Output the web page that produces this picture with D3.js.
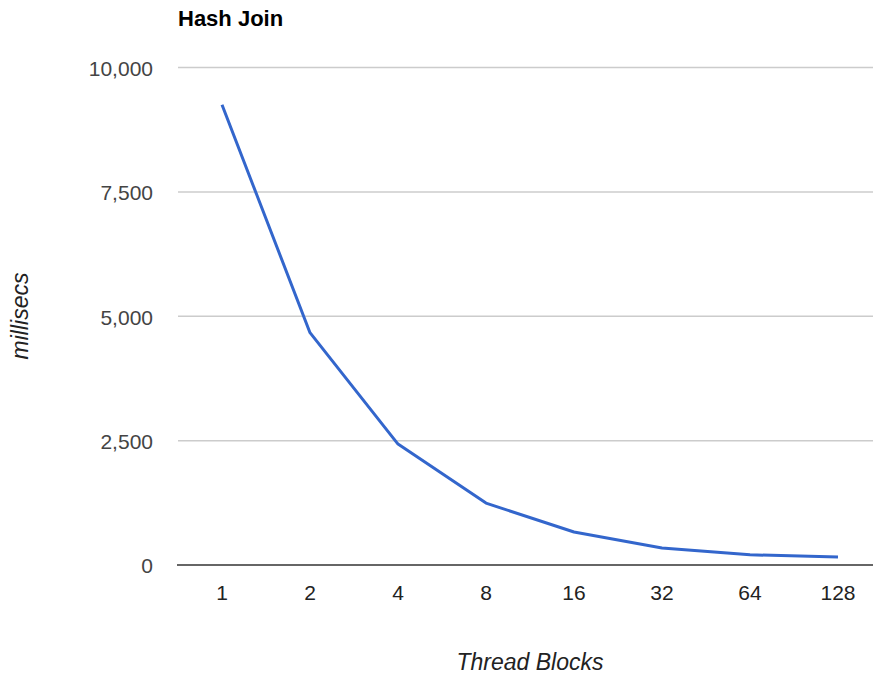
<!DOCTYPE html>
<html><head><meta charset="utf-8">
<script src="https://cdn.jsdelivr.net/npm/d3@7"></script>
<style>body{margin:0;background:#fff;} svg{display:block;}</style>
</head><body>
<svg id="c" width="873" height="674"></svg>
<script>
const categories = ["1","2","4","8","16","32","64","128"];
const values = [9250, 4670, 2430, 1245, 663, 342, 205, 162];
const yTicks = [0, 2500, 5000, 7500, 10000];

(function () {
const svg = d3.select("#c");
const font = "'Liberation Sans', Arial, sans-serif";
const mLeft = 178, mRight = 882, mTop = 67.5, mBottom = 565;

const x = d3.scalePoint().domain(categories).range([mLeft, mRight]).padding(0.5);
const y = d3.scaleLinear().domain([0, 10000]).range([mBottom, mTop]);

// gridlines
svg.append("g").selectAll("line").data(yTicks.filter(d => d !== 0)).join("line")
  .attr("x1", mLeft).attr("x2", 873)
  .attr("y1", d => y(d)).attr("y2", d => y(d))
  .attr("stroke", "#cccccc").attr("stroke-width", 1.5);

// y tick labels
svg.append("g").selectAll("text").data(yTicks).join("text")
  .attr("x", 153).attr("y", d => y(d) + 1).attr("dy", "0.35em")
  .attr("text-anchor", "end")
  .attr("font-family", font).attr("font-size", 21).attr("fill", "#444")
  .text(d => d3.format(",")(d));

// line
const line = d3.line().x((d, i) => x(categories[i])).y(d => y(d));
svg.append("path").datum(values)
  .attr("d", line).attr("fill", "none")
  .attr("stroke", "#3366cc").attr("stroke-width", 3)
  .attr("stroke-linejoin", "round");

// baseline
svg.append("line").attr("x1", mLeft - 1).attr("x2", 873)
  .attr("y1", y(0)).attr("y2", y(0))
  .attr("stroke", "#333").attr("stroke-width", 1.5);

// x tick labels
svg.append("g").selectAll("text").data(categories).join("text")
  .attr("x", d => x(d)).attr("y", 593).attr("dy", "0.35em")
  .attr("text-anchor", "middle")
  .attr("font-family", font).attr("font-size", 21).attr("fill", "#222")
  .text(d => d);

// title
svg.append("text").attr("x", 178).attr("y", 18).attr("dy", "0.35em")
  .attr("font-family", font).attr("font-size", 22).attr("font-weight", "bold").attr("fill", "#000")
  .text("Hash Join");

// axis titles
svg.append("text").attr("x", 530).attr("y", 662).attr("dy", "0.35em")
  .attr("text-anchor", "middle")
  .attr("font-family", font).attr("font-size", 23).attr("font-style", "italic").attr("fill", "#222")
  .text("Thread Blocks");

svg.append("text").attr("transform", "translate(20,316) rotate(-90)")
  .attr("text-anchor", "middle").attr("dy", "0.35em")
  .attr("font-family", font).attr("font-size", 23).attr("font-style", "italic").attr("fill", "#222")
  .text("millisecs");
})();
</script>
</body></html>
